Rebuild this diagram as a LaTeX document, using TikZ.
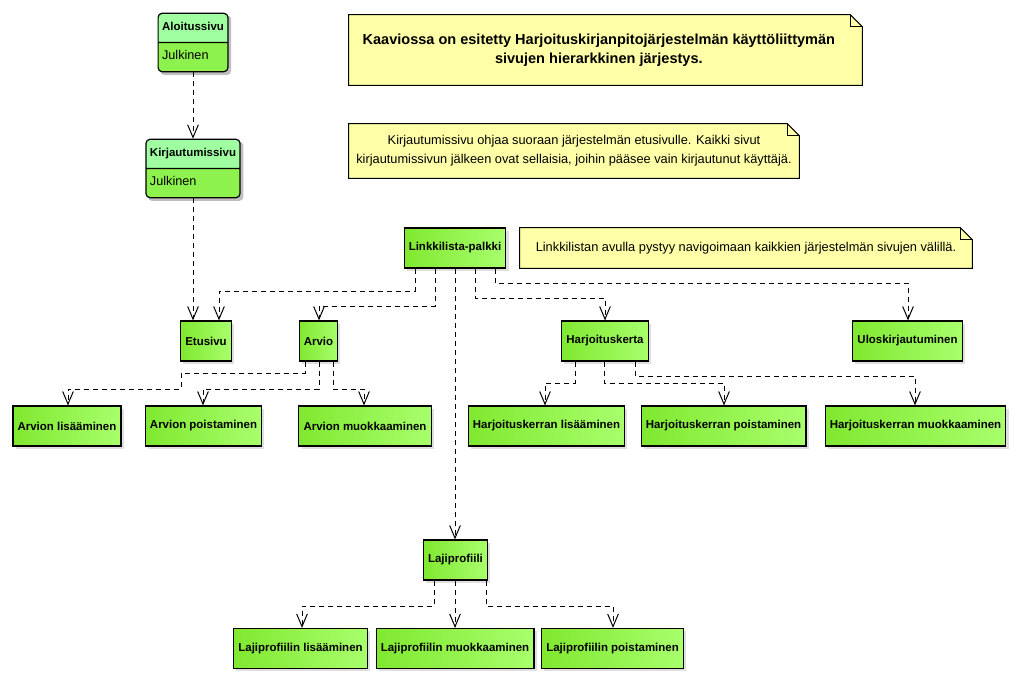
\documentclass[tikz,border=0pt]{standalone}
\usepackage{fontspec}
\setmainfont{Liberation Sans}
\usetikzlibrary{arrows.meta}
\usetikzlibrary{shapes.multipart}
\usetikzlibrary{shadows}
\usetikzlibrary{backgrounds}
\definecolor{pageleft}{HTML}{80E830}
\definecolor{pageright}{HTML}{A8FF6C}
\definecolor{clshead}{HTML}{A0FFA0}
\definecolor{clsbody}{HTML}{8EF24E}
\definecolor{notebg}{HTML}{FFFFA8}
\newcommand{\clshd}[1]{{\bfseries\fontsize{8.6}{10}\selectfont\strut #1}}
\tikzset{dep/.style = {dash pattern=on 3.75pt off 3pt, line width=0.75pt,
                       -{Straight Barb[length=9.5pt,width=8pt]}}}
\tikzset{page/.style = {draw, line width=0.9pt, left color=pageleft, right color=pageright,
                        minimum height=30pt, inner xsep=3.5pt,
                        font=\bfseries\fontsize{8.6}{10}\selectfont,
                        drop shadow={opacity=0.25, shadow xshift=2pt, shadow yshift=-2pt}}}
\tikzset{cls/.style = {rectangle split, rectangle split parts=2,
                       rectangle split part fill={clshead,clsbody},
                       rectangle split part align={center,left},
                       draw, line width=0.9pt, rounded corners=3pt,
                       inner xsep=3pt, inner ysep=5.5pt,
                       font=\fontsize{9.5}{10}\selectfont}}
\tikzset{note/.style = {inner sep=0pt, align=center, font=\fontsize{9.6}{14}\selectfont}}

\begin{document}
\begin{tikzpicture}[x=0.75pt, y=-0.75pt]
  \useasboundingbox (0,0) rectangle (1023,684);

  % sivut
  \node [cls] (alo) at (193,42.5) {\clshd{Aloitussivu}\nodepart{two}\strut Julkinen};
  \node [cls] (kir) at (193,168.5) {\clshd{Kirjautumissivu}\nodepart{two}\strut Julkinen};
  \node [page] (link) at (455,248) {Linkkilista-palkki};

  \node [page] (etu) at (206,341) {Etusivu};
  \node [page] (arv) at (318.5,341) {Arvio};
  \node [page] (har) at (605,341) {Harjoituskerta};
  \node [page] (ulo) at (907.5,341) {Uloskirjautuminen};

  \node [page] (arvlis) at (67,426) {Arvion lisääminen};
  \node [page] (arvpoi) at (203.5,426) {Arvion poistaminen};
  \node [page] (arvmuo) at (365,426) {Arvion muokkaaminen};
  \node [page] (harlis) at (546.5,426) {Harjoituskerran lisääminen};
  \node [page] (harpoi) at (723.5,426) {Harjoituskerran poistaminen};
  \node [page] (harmuo) at (915.5,426) {Harjoituskerran muokkaaminen};

  \node [page] (laj) at (455.5,560) {Lajiprofiili};
  \node [page] (lajlis) at (300.5,648.5) {Lajiprofiilin lisääminen};
  \node [page] (lajmuo) at (455,648.5) {Lajiprofiilin muokkaaminen};
  \node [page] (lajpoi) at (612.5,648.5) {Lajiprofiilin poistaminen};

  % huomautukset
  \node [note, minimum width=384.75pt, minimum height=52.5pt,
         font=\bfseries\fontsize{10.9}{14}\selectfont] (info) at (605.5,50)
        {Kaaviossa on esitetty Harjoituskirjanpitojärjestelmän käyttöliittymän\hspace*{10pt}\\sivujen hierarkkinen järjestys.\hspace*{10pt}};
  \node [note, minimum width=337.5pt, minimum height=40.5pt] (ohje) at (574,151)
        {Kirjautumissivu ohjaa suoraan järjestelmän etusivulle. Kaikki sivut\\kirjautumissivun jälkeen ovat sellaisia, joihin pääsee vain kirjautunut käyttäjä.};
  \node [note, minimum width=339pt, minimum height=30pt] (navi) at (746,248)
        {Linkkilistan avulla pystyy navigoimaan kaikkien järjestelmän sivujen välillä.};
  \begin{scope}[on background layer]
    \foreach \n in {info,ohje,navi} {
      \draw [line width=0.75pt, fill=notebg] (\n.south west) -- (\n.north west)
        -- ([xshift=-9pt]\n.north east) -- ([yshift=-9pt]\n.north east) -- (\n.south east) -- cycle;
      \draw [line width=0.5pt] ([xshift=-9pt]\n.north east) |- ([yshift=-9pt]\n.north east);
    }
    \foreach \n in {alo,kir}
      \fill [black, opacity=0.25, rounded corners=3pt]
        ([shift={(2pt,-2pt)}]\n.south west) rectangle ([shift={(2pt,-2pt)}]\n.north east);
  \end{scope}

  % yhteydet
  \draw [dep] (alo) -- (kir);
  \draw [dep] (kir.south) -- (kir.south |- etu.north);

  \draw [dep] (link.south -| 415,0) |- (219,291) -- (etu.north -| 219,0);
  \draw [dep] (link.south -| 435,0) |- (319,306) -- (arv.north -| 319,0);
  \draw [dep] (link.south -| 455,0) -- (laj.north -| 455,0);
  \draw [dep] (link.south -| 475,0) |- (605,298) -- (har.north);
  \draw [dep] (link.south -| 495,0) |- (908,283) -- (ulo.north -| 908,0);

  \draw [dep] (arv.south -| 305,0) |- (181,373) |- (68,389) -- (arvlis.north -| 68,0);
  \draw [dep] (arv.south -| 319,0) |- (203,389) -- (arvpoi.north -| 203,0);
  \draw [dep] (arv.south -| 333,0) |- (364,389) -- (arvmuo.north -| 364,0);

  \draw [dep] (har.south -| 575,0) |- (545,383) -- (harlis.north -| 545,0);
  \draw [dep] (har.south -| 604,0) |- (724,383) -- (harpoi.north -| 724,0);
  \draw [dep] (har.south -| 635,0) |- (915,376) -- (harmuo.north -| 915,0);

  \draw [dep] (laj.south -| 434,0) |- (302,606) -- (lajlis.north -| 302,0);
  \draw [dep] (laj.south -| 455,0) -- (lajmuo.north -| 455,0);
  \draw [dep] (laj.south -| 486,0) |- (613,606) -- (lajpoi.north -| 613,0);
\end{tikzpicture}
\end{document}
